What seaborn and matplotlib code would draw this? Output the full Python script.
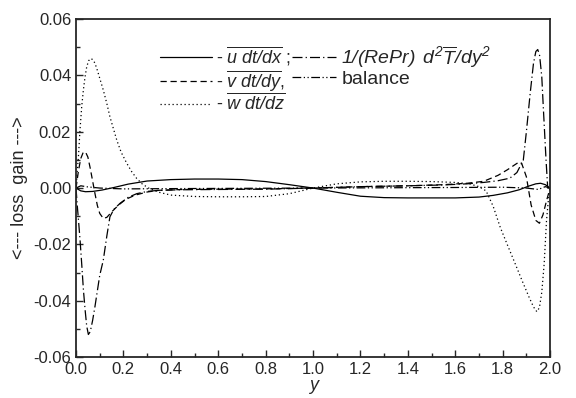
import numpy as np
import pandas as pd
import seaborn as sns
import matplotlib
matplotlib.use("Agg")
import matplotlib.pyplot as plt
from matplotlib.ticker import MultipleLocator, FormatStrFormatter

# ---------------------------
# Data
# ---------------------------

# - u dt/dx  (solid)
x_u = [0.0, 0.02, 0.04, 0.07, 0.11, 0.16, 0.22, 0.30, 0.40, 0.50, 0.60, 0.70, 0.80, 0.90,
       1.00, 1.10, 1.20, 1.30, 1.40, 1.50, 1.60, 1.70, 1.76, 1.82, 1.87, 1.91, 1.94, 1.96, 1.98, 2.00]
u = [0.0, -0.0010, -0.0013, -0.0012, -0.0007, 0.0002, 0.0014, 0.0025, 0.0030, 0.0032, 0.0032,
     0.0030, 0.0023, 0.0012, 0.0000, -0.0015, -0.0029, -0.0034, -0.0035, -0.0035, -0.0035,
     -0.0032, -0.0026, -0.0017, -0.0006, 0.0007, 0.0015, 0.0017, 0.0012, 0.0]

# - v dt/dy  (dashed)
x_v = [0.0, 0.01, 0.02, 0.03, 0.04, 0.05, 0.06, 0.07, 0.08, 0.09, 0.10, 0.115, 0.13, 0.15,
       0.18, 0.21, 0.25, 0.30, 0.35, 0.45, 0.6, 0.8, 1.0, 1.2, 1.4, 1.55, 1.65, 1.72, 1.78,
       1.82, 1.85, 1.87, 1.88, 1.90, 1.92, 1.94, 1.955, 1.97, 1.985, 2.0]
v = [0.0, 0.0060, 0.0105, 0.0126, 0.0128, 0.0110, 0.0070, 0.0025, -0.0020, -0.0062, -0.0090,
     -0.0108, -0.0104, -0.0085, -0.0060, -0.0040, -0.0025, -0.0014, -0.0008, -0.0005, -0.0004,
     -0.0003, 0.0, 0.0005, 0.0008, 0.0012, 0.0017, 0.0024, 0.0045, 0.0065, 0.0082, 0.0093,
     0.0088, 0.0040, -0.0060, -0.0115, -0.0125, -0.0095, -0.0045, 0.0]

# - w dt/dz  (dotted)
x_w = [0.0, 0.005, 0.01, 0.017, 0.024, 0.031, 0.038, 0.045, 0.053, 0.062, 0.071, 0.080, 0.09,
       0.10, 0.115, 0.13, 0.143, 0.158, 0.172, 0.19, 0.214, 0.235, 0.256, 0.28, 0.31, 0.35,
       0.40, 0.5, 0.6, 0.7, 0.8, 0.9, 1.0, 1.1, 1.2, 1.3, 1.4, 1.5, 1.6, 1.66, 1.70, 1.73,
       1.76, 1.79, 1.82, 1.85, 1.88, 1.91, 1.93, 1.944, 1.955, 1.965, 1.975, 1.985, 1.993, 2.0]
w = [0.0, 0.006, 0.011, 0.021, 0.029, 0.0348, 0.0395, 0.0430, 0.0452, 0.0460, 0.0456, 0.0443,
     0.0418, 0.0390, 0.0348, 0.0300, 0.0253, 0.0210, 0.0170, 0.0128, 0.0088, 0.0058, 0.0034,
     0.0014, -0.0002, -0.0015, -0.0025, -0.0030, -0.0031, -0.0031, -0.0030, -0.0020, 0.0,
     0.0015, 0.0022, 0.0024, 0.0024, 0.0023, 0.0020, 0.0015, 0.0005, -0.0010, -0.0065,
     -0.0140, -0.0202, -0.0263, -0.0325, -0.0385, -0.0422, -0.0439, -0.0425, -0.0370,
     -0.0270, -0.0115, -0.0040, 0.0]

# 1/(RePr) d2T/dy2  (dash-dot)
x_t = [0.0, 0.005, 0.01, 0.017, 0.024, 0.031, 0.038, 0.045, 0.052, 0.060, 0.070, 0.080, 0.090,
       0.100, 0.115, 0.13, 0.143, 0.16, 0.186, 0.22, 0.256, 0.30, 0.35, 0.45, 0.6, 0.8, 1.0,
       1.2, 1.4, 1.55, 1.65, 1.72, 1.78, 1.83, 1.86, 1.887, 1.90, 1.916, 1.93, 1.94, 1.948,
       1.956, 1.965, 1.972, 1.983, 1.99, 2.0]
t = [0.0, -0.0060, -0.0110, -0.0185, -0.0270, -0.0360, -0.0430, -0.0490, -0.0520, -0.0510,
     -0.0470, -0.0420, -0.0365, -0.0310, -0.0256, -0.0170, -0.0102, -0.0075, -0.0054, -0.0033,
     -0.0020, -0.0012, -0.0008, -0.0006, -0.0005, -0.0004, 0.0, 0.0005, 0.0008, 0.0011,
     0.0015, 0.0020, 0.0026, 0.0035, 0.0055, 0.0099, 0.0200, 0.0336, 0.0443, 0.0485, 0.0492,
     0.0470, 0.0395, 0.0277, 0.0099, 0.0, 0.0]

# balance  (dash-dot-dot)
x_b = [0.0, 0.02, 0.05, 0.1, 0.2, 0.4, 1.0, 1.6, 1.8, 1.9, 1.95, 1.98, 2.0]
b = [0.0, 0.0008, 0.0004, 0.0, -0.0003, -0.0002, 0.0, 0.0002, 0.0003, 0.0, -0.0005, 0.0005, 0.0]

labels = [r"- $\overline{u\;dt/dx}$ ;",
          r"- $\overline{v\;dt/dy}$,",
          r"- $\overline{w\;dt/dz}$",
          r"$1/(RePr)\ \,d^2\overline{T}/dy^2$",
          "balance"]

# ---------------------------
# Style
# ---------------------------
sns.set_style("ticks")
plt.rcParams["font.family"] = ["Liberation Sans", "DejaVu Sans"]
plt.rcParams["mathtext.fontset"] = "custom"
# all math text in the legend is italic, digits included
plt.rcParams["mathtext.rm"] = "Liberation Sans:italic"
plt.rcParams["mathtext.it"] = "Liberation Sans:italic"
plt.rcParams["mathtext.bf"] = "Liberation Sans:bold"
plt.rcParams["axes.unicode_minus"] = False

fig = plt.figure(figsize=(5.76, 3.98), dpi=100)
ax = fig.add_axes([0.132, 0.103, 0.823, 0.849])

series = [(x_u, u, "-"),
          (x_v, v, (0, (5, 3))),
          (x_w, w, (0, (1, 2.2))),
          (x_t, t, (0, (8, 2.5, 1, 2.5))),
          (x_b, b, (0, (7, 2, 1, 2, 1, 2)))]

for (xs, ys, ls), lab in zip(series, labels):
    sns.lineplot(x=xs, y=ys, ax=ax, color="black", lw=0.9, linestyle=ls,
                 sort=False, estimator=None, label=lab, legend=False)

ax.set_xlim(0, 2.0)
ax.set_ylim(-0.06, 0.06)
ax.xaxis.set_major_locator(MultipleLocator(0.2))
ax.xaxis.set_minor_locator(MultipleLocator(0.1))
ax.yaxis.set_major_locator(MultipleLocator(0.02))
ax.yaxis.set_minor_locator(MultipleLocator(0.01))
ax.xaxis.set_major_formatter(FormatStrFormatter("%.1f"))
ax.yaxis.set_major_formatter(FormatStrFormatter("%.2f"))
ax.tick_params(which="both", direction="in", top=False, right=False, labelsize=12, width=1)
ax.tick_params(which="major", length=5)
ax.tick_params(which="minor", length=3)
for s in ax.spines.values():
    s.set_linewidth(1.3)

ax.set_xlabel("y", fontsize=13, fontstyle="italic", labelpad=0)
ax.set_ylabel("<--- loss  gain --->", fontsize=13, labelpad=4)

# two separate legend blocks, like the original
h = ax.get_lines()
leg1 = ax.legend(h[:3], labels[:3], loc="upper left", bbox_to_anchor=(0.177, 0.925),
                 frameon=False, fontsize=13, handlelength=2.9, handletextpad=0.2,
                 labelspacing=0.0, borderaxespad=0, borderpad=0)
ax.add_artist(leg1)
ax.legend(h[3:], labels[3:], loc="upper left", bbox_to_anchor=(0.455, 0.925),
          frameon=False, fontsize=14, handlelength=2.3, handletextpad=0.25,
          labelspacing=0.02, borderaxespad=0, borderpad=0)

fig.savefig("out.png", dpi=100)
